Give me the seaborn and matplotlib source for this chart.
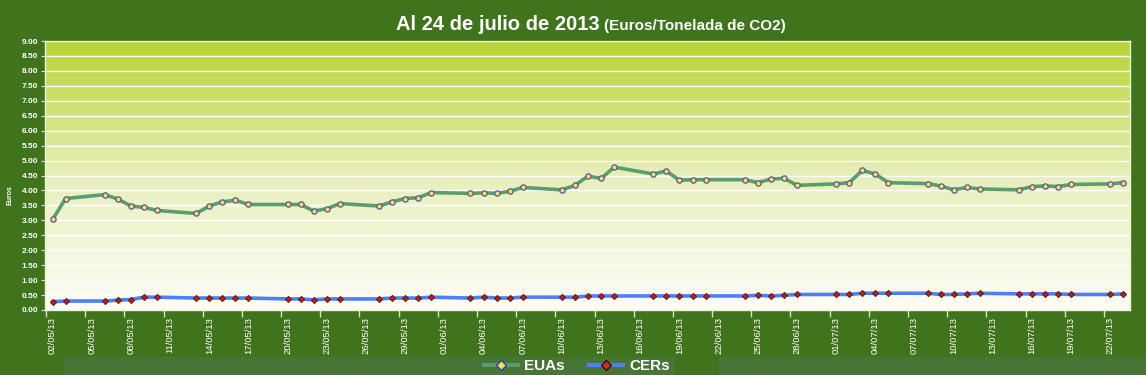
import numpy as np
import pandas as pd
import matplotlib
matplotlib.use("Agg")
from matplotlib import pyplot as plt
import matplotlib.dates as mdates
from matplotlib.colors import LinearSegmentedColormap
from matplotlib.lines import Line2D
from matplotlib.patches import Rectangle
import seaborn as sns

dates = ["02/05/13", "03/05/13", "06/05/13", "07/05/13", "08/05/13", "09/05/13", "10/05/13",
         "13/05/13", "14/05/13", "15/05/13", "16/05/13", "17/05/13", "20/05/13", "21/05/13",
         "22/05/13", "23/05/13", "24/05/13", "27/05/13", "28/05/13", "29/05/13", "30/05/13",
         "31/05/13", "03/06/13", "04/06/13", "05/06/13", "06/06/13", "07/06/13", "10/06/13",
         "11/06/13", "12/06/13", "13/06/13", "14/06/13", "17/06/13", "18/06/13", "19/06/13",
         "20/06/13", "21/06/13", "24/06/13", "25/06/13", "26/06/13", "27/06/13", "28/06/13",
         "01/07/13", "02/07/13", "03/07/13", "04/07/13", "05/07/13", "08/07/13", "09/07/13",
         "10/07/13", "11/07/13", "12/07/13", "15/07/13", "16/07/13", "17/07/13", "18/07/13",
         "19/07/13", "22/07/13", "23/07/13"]

eua = [3.03, 3.73, 3.86, 3.71, 3.48, 3.43, 3.33, 3.23, 3.48, 3.62, 3.67, 3.53, 3.53, 3.53,
       3.31, 3.39, 3.56, 3.48, 3.62, 3.73, 3.76, 3.93,
       3.90, 3.92, 3.90, 3.97, 4.10, 4.02, 4.17, 4.48, 4.40, 4.78, 4.55, 4.65, 4.34, 4.36,
       4.36, 4.36, 4.26, 4.38, 4.41, 4.17,
       4.22, 4.26, 4.67, 4.55, 4.26, 4.23, 4.15, 4.02, 4.10, 4.05, 4.02, 4.13, 4.15, 4.13,
       4.20, 4.22, 4.26]

cer = [0.28, 0.30, 0.30, 0.33, 0.35, 0.43, 0.43, 0.40, 0.40, 0.40, 0.40, 0.40, 0.37, 0.37,
       0.34, 0.37, 0.37, 0.37, 0.40, 0.40, 0.40, 0.43,
       0.40, 0.43, 0.40, 0.40, 0.43, 0.43, 0.43, 0.47, 0.47, 0.47, 0.47, 0.47, 0.47, 0.47,
       0.47, 0.47, 0.49, 0.47, 0.49, 0.52,
       0.52, 0.52, 0.56, 0.56, 0.56, 0.56, 0.52, 0.52, 0.54, 0.56, 0.54, 0.54, 0.54, 0.54,
       0.52, 0.52, 0.54]

series_names = ["EUAs", "CERs"]
title_main = "Al 24 de julio de 2013"
title_sub = "(Euros/Tonelada de CO2)"
y_label = "Euros"

BG = "#3f731c"
NARROW = ["Liberation Sans Narrow", "Liberation Sans", "DejaVu Sans"]
plt.rcParams["font.family"] = ["Liberation Sans", "DejaVu Sans"]

df = pd.DataFrame({
    "fecha": pd.to_datetime(dates, format="%d/%m/%y") + pd.Timedelta(hours=12),
    "EUA": eua,
    "CER": cer,
})

fig = plt.figure(figsize=(11.46, 3.75), dpi=100, facecolor=BG)

# bottom strips behind everything
for x0, x1 in [(64, 675), (719, 1146)]:
    fig.patches.append(Rectangle((x0 / 1146, 0), (x1 - x0) / 1146, 18 / 375,
                                 transform=fig.transFigure, facecolor="#467535",
                                 edgecolor="none", zorder=-5))

ax = fig.add_axes([45 / 1146, 65 / 375, 1085 / 1146, 269 / 375])

# gradient background of the plot area
cmap = LinearSegmentedColormap.from_list("bg", ["#fdfdf6", "#e8efba", "#b6d431"])
ax.imshow(np.linspace(0, 1, 256).reshape(-1, 1), cmap=cmap, origin="lower",
          extent=[0, 1, 0, 1], transform=ax.transAxes, aspect="auto", zorder=0)

sns.lineplot(data=df, x="fecha", y="EUA", ax=ax, color="#5a9e70", lw=2.6,
             marker="o", markersize=3.8, markerfacecolor="#f2e34a",
             markeredgecolor="#5a52a8", markeredgewidth=0.9, zorder=3)
sns.lineplot(data=df, x="fecha", y="CER", ax=ax, color="#4d80f5", lw=2.6,
             marker="D", markersize=3.2, markerfacecolor="#c41a16",
             markeredgecolor="#4a1a10", markeredgewidth=0.6, zorder=3)

start = pd.Timestamp("2013-05-02")
ax.set_xlim(mdates.date2num(start) - 0.08, mdates.date2num(pd.Timestamp("2013-07-24")))
ax.set_ylim(0, 9)

tick_days = pd.date_range(start, "2013-07-22", freq="3D")
ax.set_xticks(mdates.date2num(tick_days + pd.Timedelta(hours=12)))
ax.set_xticklabels([d.strftime("%d/%m/%y") for d in tick_days], rotation=90,
                   color="white", fontsize=6.8, family=NARROW)
ax.set_xticks(mdates.date2num(tick_days), minor=True)
ax.tick_params(axis="x", which="major", length=0, pad=5)
ax.tick_params(axis="x", which="minor", length=5, color="#d8e4c0", width=1)

ax.set_yticks(np.arange(0, 9.01, 0.5))
ax.set_yticklabels([f"{v:.2f}" for v in np.arange(0, 9.01, 0.5)], color="white",
                   fontsize=6, fontweight="bold", family=NARROW)
ax.tick_params(axis="y", length=3, color="#d8e4c0", pad=2)
ax.grid(axis="y", color="white", lw=1, zorder=1)
ax.set_axisbelow(True)
ax.set_xlabel("")
ax.set_ylabel("")
for side in ax.spines:
    ax.spines[side].set_color("#eef4d8")
    ax.spines[side].set_linewidth(1)

fig.text(10 / 1146, 1 - 195 / 375, y_label, rotation=90, color="white", fontsize=5,
         fontweight="bold", ha="center", va="center")

fig.text(600 / 1146, 1 - 30 / 375, title_main, color="white", fontsize=14.5,
         fontweight="bold", ha="right", va="baseline")
fig.text(604 / 1146, 1 - 30 / 375, title_sub, color="white", fontsize=11,
         fontweight="bold", ha="left", va="baseline", family=NARROW)

handles = [
    Line2D([], [], color="#5a9e70", lw=3, marker="D", markersize=5,
           markerfacecolor="#f2e34a", markeredgecolor="#3a3aa8"),
    Line2D([], [], color="#4d80f5", lw=3, marker="D", markersize=5,
           markerfacecolor="#d42a20", markeredgecolor="#3a1010"),
]
leg = fig.legend(handles, series_names, loc="center", bbox_to_anchor=(577 / 1146, 1 - 366 / 375),
                 ncol=2, frameon=False, handlelength=2.2, handletextpad=0.4,
                 columnspacing=1.6, prop={"family": NARROW, "weight": "bold", "size": 11})
for t in leg.get_texts():
    t.set_color("white")

fig.savefig("out.png", dpi=100, facecolor=BG)
